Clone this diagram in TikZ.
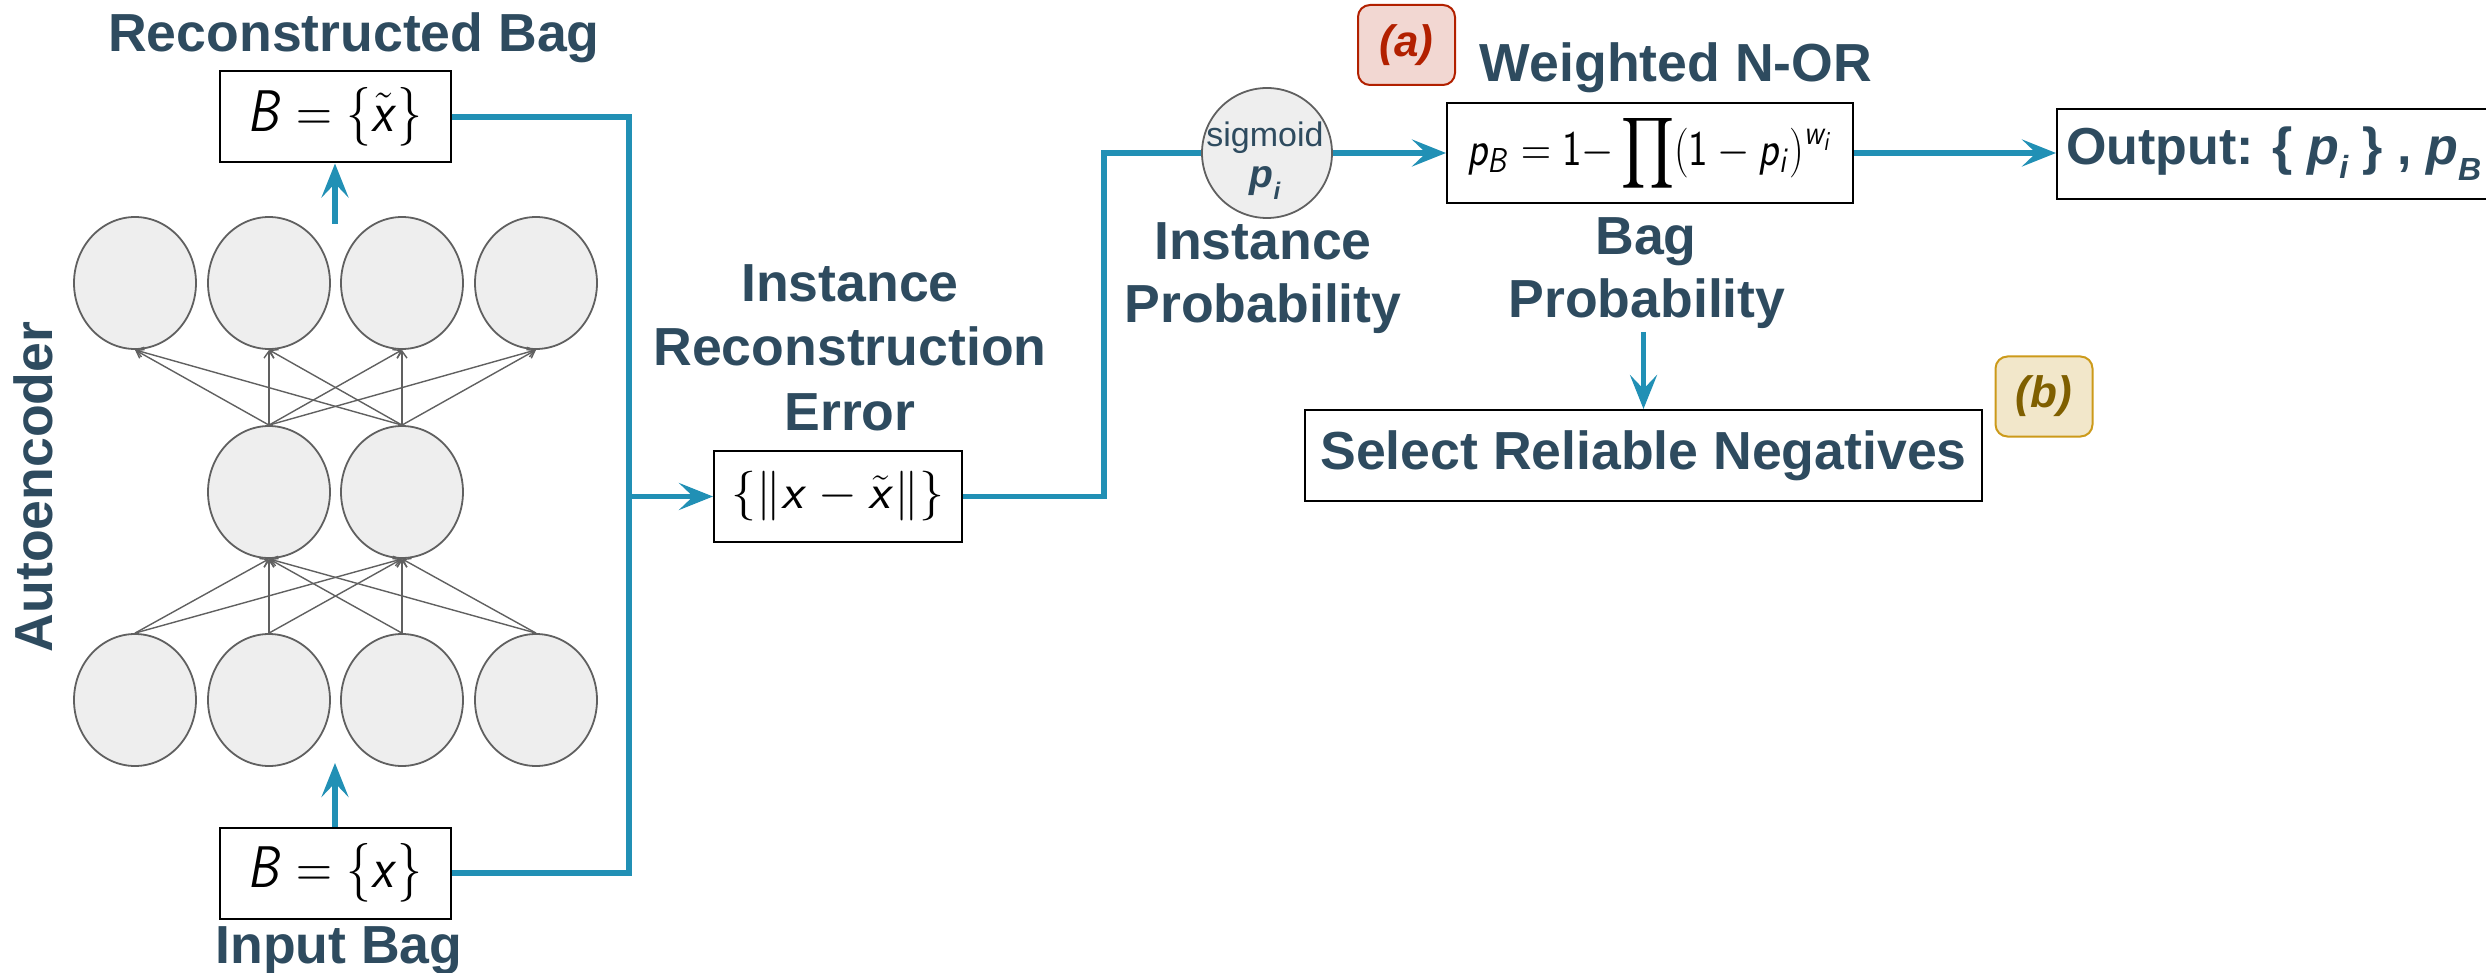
\documentclass[tikz,border=0pt]{standalone}
\usepackage{exscale}
\usepackage{fontspec}
\setmainfont{Liberation Sans}
\usetikzlibrary{shapes.geometric,arrows.meta}
\DeclareMathAlphabet{\mathsfit}{OT1}{cmss}{m}{sl}
\DeclareMathAlphabet{\mathsfup}{OT1}{cmss}{m}{n}
\definecolor{txt}{HTML}{2E4B5F}
\definecolor{flowblue}{HTML}{2190B5}
\definecolor{ngray}{HTML}{606060}
\definecolor{nfill}{HTML}{EEEEEE}
\definecolor{redtxt}{HTML}{B22000}
\definecolor{redfill}{HTML}{F2D7D2}
\definecolor{goldline}{HTML}{CC9A1A}
\definecolor{goldfill}{HTML}{F2E7CA}
\definecolor{goldtxt}{HTML}{7F5F00}
\begin{document}
\begin{tikzpicture}[x=0.5pt,y=-0.5pt,
  lbl/.style={font=\fontsize{26.8}{30}\selectfont\bfseries, text=txt, inner sep=0, anchor=base},
  box/.style={draw=black, line width=1pt, fill=white, inner sep=0},
  neuron/.style={ellipse, draw=ngray, fill=nfill, line width=0.9pt, minimum width=61pt, minimum height=66pt, inner sep=0},
  flow/.style={draw=flowblue, line width=2.6pt},
  flowarrow/.style={flow, -{Stealth[length=17pt,width=13.5pt,inset=7pt]}},
  nnarrow/.style={draw=ngray, line width=0.7pt, -{Straight Barb[length=3.5pt,width=5pt]}},
  badge/.style={line width=1pt, rounded corners=6pt, minimum width=48.5pt, minimum height=40pt, inner sep=0, font=\fontsize{22}{22}\selectfont\bfseries\itshape}
]
\useasboundingbox (0,0) rectangle (2486,973);

% neurons
\foreach \i/\x in {1/135,2/269,3/402,4/536} {
  \node[neuron] (t\i) at (\x,283) {};
  \node[neuron] (b\i) at (\x,700) {};
}
\node[neuron] (m1) at (269,492) {};
\node[neuron] (m2) at (402,492) {};
\foreach \i in {1,...,4} {
  \foreach \j in {1,2} {
    \draw[nnarrow] (b\i.north) -- (m\j.south);
    \draw[nnarrow] (m\j.north) -- (t\i.south);
  }
}

% boxes
\node[box, minimum width=115.5pt, minimum height=45.5pt] (rec) at (335,117)
  {\scalebox{1}[1.18]{\fontsize{31.5}{36}\selectfont$\mathsfit{B}=\{\tilde{\mathsfit{x}}\}$}};
\node[box, minimum width=115.5pt, minimum height=45.5pt] (inp) at (335,873)
  {\scalebox{1}[1.18]{\fontsize{31.5}{36}\selectfont$\mathsfit{B}=\{\mathsfit{x}\}$}};
\node[box, minimum width=124pt, minimum height=45.5pt] (err) at (838,496.5)
  {\fontsize{31.5}{36}\selectfont$\{\|\mathsfit{x}-\tilde{\mathsfit{x}}\|\}$};
\node[circle, draw=ngray, fill=nfill, line width=0.9pt, minimum size=65pt, inner sep=0] (sig) at (1267,153) {};
\node[anchor=base, inner sep=0, text=txt, font=\fontsize{17}{20}\selectfont] (sigt) at (1265,147) {sigmoid};
\node[anchor=base, inner sep=0, text=txt, font=\fontsize{19.5}{20}\selectfont\bfseries\itshape] (sigp) at (1265,188)
  {p\raisebox{-6pt}{\fontsize{12}{12}\selectfont i}};
\node[box, minimum width=203pt, minimum height=50pt] (nor) at (1650,153)
  {\raisebox{-1.5pt}{\scalebox{1}[1.2]{\fontsize{22}{24}\selectfont$\mathsfit{p}_{\mathsfit{B}}=\mathsfup{1}{-}\displaystyle\prod(\mathsfup{1}-\mathsfit{p}_{\mathsfit{i}})^{\mathsfit{w}_{\mathsfit{i}}}$}}};
\node[box, anchor=west, minimum height=45pt, minimum width=213pt, inner xsep=4.5pt,
  font=\fontsize{26}{30}\selectfont\bfseries, text=txt] (out) at (2056,154)
  {Output: \{ \textit{p}\raisebox{-7pt}{\fontsize{16}{16}\selectfont\itshape i} \} , \textit{p}\raisebox{-8pt}{\fontsize{16}{16}\selectfont\itshape B}};
\node[box, minimum width=338.5pt, minimum height=45.5pt, font=\fontsize{26.8}{30}\selectfont\bfseries, text=txt] (sel) at (1643.5,455.5)
  {Select Reliable Negatives};

% badges
\node[badge, draw=redtxt, fill=redfill, text=redtxt] (bada) at (1406.5,45) {(a)};
\node[badge, draw=goldline, fill=goldfill, text=goldtxt] (badb) at (2044,396.5) {(b)};

% labels
\node[lbl] (lrec) at (354,52) {Reconstructed Bag};
\node[lbl] (linp) at (339,963) {Input Bag};
\node[lbl, rotate=90] (lae) at (52,487) {Autoencoder};
\node[lbl] (lerr1) at (850,302) {Instance};
\node[lbl] (lerr2) at (850,365) {Reconstruction};
\node[lbl] (lerr3) at (850,430) {Error};
\node[lbl] (lip1) at (1263,260) {Instance};
\node[lbl] (lip2) at (1263,323) {Probability};
\node[lbl] (lnor) at (1676,82) {Weighted N-OR};
\node[lbl] (lbp1) at (1646,255) {Bag};
\node[lbl] (lbp2) at (1647,318) {Probability};

% connectors
\coordinate (j1) at (629,117);
\coordinate (j2) at (629,873);
\coordinate (j3) at (629,496.5);
\draw[flow] (rec.east) -- (j1) -- (j2) -- (inp.east);
\draw[flowarrow] (j3) -- (err.west);
\coordinate (k1) at (1104,496.5);
\coordinate (k2) at (1104,153);
\draw[flow] (err.east) -- (k1) -- (k2) -- (sig.west);
\draw[flowarrow] (sig.east) -- (nor.west);
\draw[flowarrow] (nor.east) -- (nor.east -| out.west);
\coordinate (up1) at (335,224);
\draw[flowarrow] (up1) -- (rec.south);
\coordinate (up2) at (335,763);
\draw[flowarrow] (inp.north) -- (up2);
\coordinate (dn1) at (1643.5,332);
\draw[flowarrow] (dn1) -- (sel.north);
\end{tikzpicture}
\end{document}
